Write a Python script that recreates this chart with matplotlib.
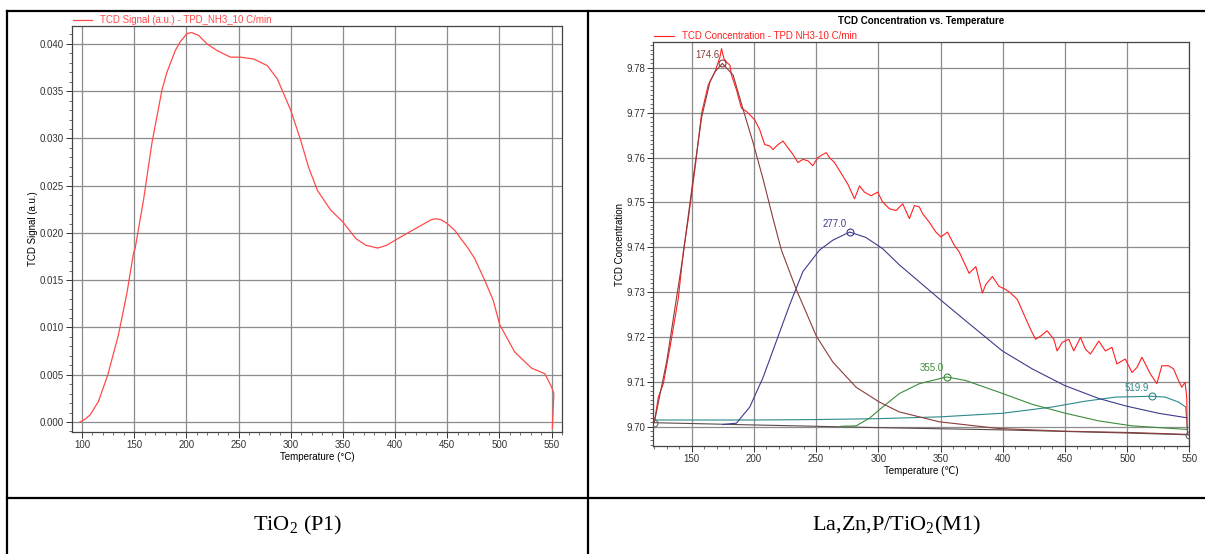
import numpy as np
import matplotlib
matplotlib.use("Agg")
import matplotlib.pyplot as plt
from matplotlib.lines import Line2D
from matplotlib.ticker import MultipleLocator

plt.rcParams['font.family'] = ['Liberation Sans', 'DejaVu Sans']
plt.rcParams['mathtext.fontset'] = 'custom'
plt.rcParams['mathtext.rm'] = 'Liberation Serif'

# ---- left panel: TiO2 (P1) ----
tio2_temp = [98, 103, 107.7, 115.7, 124.7, 134.9, 143, 149.3, 151, 159, 167, 176.6, 181.4,
             189.4, 194, 200.6, 205, 211.8, 219.9, 229.5, 242.3, 251.9, 264.7, 277.6, 287.2,
             300, 309.6, 317, 325.6, 338.5, 349.7, 362.5, 372, 383.4, 392, 402.6, 421.8,
             434.6, 439, 444.2, 450, 457, 469.9, 476.3, 485.9, 494, 500.3, 514.7, 530.8,
             543.6, 550, 552.2, 550.7]
tio2_signal = [0.0000, 0.0003, 0.00074, 0.00215, 0.00497, 0.0092, 0.0136, 0.0178, 0.0184,
               0.0235, 0.0295, 0.0351, 0.0370, 0.0393, 0.0402, 0.0411, 0.0412, 0.0409,
               0.0400, 0.0393, 0.0386, 0.0386, 0.0384, 0.0377, 0.0363, 0.0330, 0.0298,
               0.0270, 0.0245, 0.0224, 0.0212, 0.0194, 0.0187, 0.0184, 0.0187, 0.0194,
               0.0206, 0.0214, 0.0215, 0.0214, 0.0210, 0.0203, 0.0184, 0.0173, 0.0150,
               0.0129, 0.0103, 0.0074, 0.0057, 0.0051, 0.0037, 0.0030, -0.0007]

# ---- right panel: La,Zn,P/TiO2 (M1) ----
m1_temp = [120, 123.2, 127.2, 132.6, 139.3, 143.3, 147.3, 152.6, 158, 163.3, 168.7, 172.7,
           174, 175.9, 178, 180.7, 182, 186, 190, 194, 198, 200.7, 204.7, 208.7, 212.7,
           215.4, 219.4, 223.4, 227.4, 231.4, 235.4, 239.4, 243.4, 247.4, 251.4, 255.4,
           258.2, 260.8, 264.8, 268.8, 275.5, 280.9, 284.9, 288.9, 294.2, 299.5, 303.5,
           308.9, 314.3, 319.6, 325, 329, 333, 335.6, 341, 346.3, 350.3, 355.6, 361, 365,
           373, 378.4, 383.7, 386.4, 391.7, 397, 402.4, 406.4, 411.7, 417.1, 422.4, 426.4,
           430.4, 435.7, 441.1, 443.7, 447.8, 453.1, 457.1, 462.5, 466.5, 470.5, 477.2,
           482.5, 487.8, 491.8, 498.5, 503.9, 507.9, 511.9, 518.6, 523.9, 527.9, 533.3,
           537.3, 541.3, 543.9, 546.6, 547.9, 548.2, 548.7]
m1_conc = [9.7010, 9.7066, 9.7096, 9.7177, 9.7287, 9.7390, 9.7464, 9.7574, 9.7699, 9.7762,
           9.7791, 9.7824, 9.7843, 9.7821, 9.7813, 9.7806, 9.7784, 9.7751, 9.7710, 9.7703,
           9.7692, 9.7684, 9.7662, 9.7629, 9.7626, 9.7618, 9.7629, 9.7637, 9.7622, 9.7607,
           9.7589, 9.7596, 9.7593, 9.7582, 9.7600, 9.7607, 9.7611, 9.7600, 9.7589, 9.7571,
           9.7541, 9.7508, 9.7537, 9.7523, 9.7515, 9.7523, 9.7501, 9.7486, 9.7482, 9.7497,
           9.7464, 9.7493, 9.7490, 9.7475, 9.7456, 9.7434, 9.7423, 9.7434, 9.7405, 9.7390,
           9.7342, 9.7357, 9.7298, 9.7317, 9.7335, 9.7313, 9.7306, 9.7298, 9.7284, 9.7250,
           9.7217, 9.7195, 9.7202, 9.7214, 9.7195, 9.7169, 9.7188, 9.7195, 9.7169, 9.7199,
           9.7173, 9.7162, 9.7191, 9.7169, 9.7177, 9.7140, 9.7151, 9.7121, 9.7132, 9.7155,
           9.7118, 9.7096, 9.7136, 9.7136, 9.7129, 9.7103, 9.7088, 9.7099, 9.7066, 9.7008,
           9.6982]

peak1_temp = [120, 130, 143, 152, 158, 164.7, 168.7, 174.6, 183.3, 191.4, 199.4, 207.4,
              215.4, 222.1, 234.1, 250.2, 263.5, 282.2, 300.9, 316.9, 333, 349, 397,
              450.5, 503.8, 547.9]
peak1_conc = [9.7010, 9.7147, 9.7380, 9.7570, 9.7690, 9.7769, 9.7791, 9.7810, 9.7784,
              9.7707, 9.7633, 9.7552, 9.7464, 9.7394, 9.7306, 9.7202, 9.7144, 9.7088,
              9.7055, 9.7033, 9.7022, 9.7011, 9.6996, 9.6990, 9.6987, 9.6983]

peak2_temp = [175, 186, 196.7, 207.4, 218.1, 228.8, 239.4, 252.8, 263.5, 277.0, 290,
              303.5, 316.9, 349.5, 370.3, 399.7, 423.7, 449.7, 477.2, 499.4, 525.3, 547.9]
peak2_conc = [9.7005, 9.7008, 9.7044, 9.7110, 9.7191, 9.7272, 9.7346, 9.7394, 9.7416,
              9.7434, 9.7422, 9.7397, 9.7361, 9.7284, 9.7236, 9.7169, 9.7129, 9.7092,
              9.7063, 9.7046, 9.7030, 9.7020]

peak3_temp = [270, 282.2, 292.9, 303.5, 316.9, 333, 355.0, 370.3, 397, 423.7, 450.5,
              477.2, 503.9, 547.9]
peak3_conc = [9.7001, 9.7002, 9.7019, 9.7044, 9.7074, 9.7096, 9.7111, 9.7103, 9.7077,
              9.7050, 9.7030, 9.7013, 9.7002, 9.6994]

peak4_temp = [120, 200, 250, 300, 349.5, 399.7, 439.8, 466.5, 490.5, 519.9, 530.6,
              541.3, 547.1, 548.5]
peak4_conc = [9.7015, 9.7015, 9.7016, 9.7018, 9.7022, 9.7030, 9.7044, 9.7057, 9.7066,
              9.7068, 9.7066, 9.7055, 9.7044, 9.6990]

base_temp = [120, 200, 300, 400, 500, 550]
base_conc = [9.7009, 9.7004, 9.6998, 9.6993, 9.6986, 9.6982]

peak_labels = ['174.6', '277.0', '355.0', '519.9']
peak_pos = [174.6, 277.0, 355.0, 519.9]
peak_height = [9.7810, 9.7434, 9.7111, 9.7068]
peak_colors = ['#8c3c3c', '#3c3c8c', '#3c8c3c', '#2e8a8a']

fig = plt.figure(figsize=(12.05, 5.54), dpi=100)


def style_axes(ax):
    ax.grid(True, which='major', color='#8c8c8c', linewidth=0.9)
    ax.tick_params(which='major', direction='out', length=4, width=0.7, labelsize=7,
                   colors='#333333', pad=2)
    ax.tick_params(which='minor', direction='out', length=2.5, width=0.6, colors='#555555')
    for sp in ax.spines.values():
        sp.set_color('#444444')
        sp.set_linewidth(0.9)


# left plot
ax1 = fig.add_axes([0.0598, 0.2202, 0.4066, 0.7329])
ax1.plot(tio2_temp, tio2_signal, color='#ff4a4a', lw=0.9,
         label='TCD Signal (a.u.) - TPD_NH3_10 C/min')
ax1.set_xlim(90.5, 560)
ax1.set_ylim(-0.00106, 0.0419)
ax1.xaxis.set_major_locator(MultipleLocator(50))
ax1.xaxis.set_minor_locator(MultipleLocator(10))
ax1.yaxis.set_major_locator(MultipleLocator(0.005))
ax1.yaxis.set_minor_locator(MultipleLocator(0.001))
ax1.yaxis.set_major_formatter(matplotlib.ticker.FormatStrFormatter('%.3f'))
style_axes(ax1)
ax1.set_xlabel('Temperature (°C)', fontsize=7, labelpad=1)
ax1.set_ylabel('TCD Signal (a.u.)', fontsize=7, labelpad=1)
ax1.legend(loc='lower left', bbox_to_anchor=(0, 1), frameon=False, fontsize=7,
           borderpad=0, borderaxespad=0.05, handlelength=2.0, handletextpad=0.8,
           labelcolor='#ff4a4a')

# right plot
ax2 = fig.add_axes([0.5422, 0.1949, 0.4448, 0.7287])
ax2.plot(base_temp, base_conc, color='#5a4a4a', lw=0.8)
ax2.plot(peak4_temp, peak4_conc, color=peak_colors[3], lw=0.8)
ax2.plot(peak3_temp, peak3_conc, color=peak_colors[2], lw=0.8)
ax2.plot(peak2_temp, peak2_conc, color=peak_colors[1], lw=0.8)
ax2.plot(m1_temp, m1_conc, color='#ff2020', lw=0.8,
         label='TCD Concentration - TPD NH3-10 C/min')
ax2.plot(peak1_temp, peak1_conc, color=peak_colors[0], lw=0.8)
for lab, x, y, c in zip(peak_labels, peak_pos, peak_height, peak_colors):
    ax2.plot([x], [y], 'o', mfc='none', mec=c, ms=5, mew=0.8)
    ax2.annotate(lab, (x, y), xytext=(-2, 2.5), textcoords='offset points',
                 ha='right', va='bottom', fontsize=7, color=c)
ax2.plot([base_temp[0], base_temp[-1]], [base_conc[0], base_conc[-1]], 'o', mfc='none',
         mec='#666666', ms=5, mew=0.8)
ax2.set_xlim(119.2, 550)
ax2.set_ylim(9.6957, 9.7857)
ax2.xaxis.set_major_locator(MultipleLocator(50))
ax2.xaxis.set_minor_locator(MultipleLocator(10))
ax2.yaxis.set_major_locator(MultipleLocator(0.01))
ax2.yaxis.set_minor_locator(MultipleLocator(0.001))
ax2.yaxis.set_major_formatter(matplotlib.ticker.FormatStrFormatter('%.2f'))
style_axes(ax2)
ax2.set_xlabel('Temperature (\u2103)', fontsize=7, labelpad=1)
ax2.set_ylabel('TCD Concentration', fontsize=7, labelpad=1)
ax2.set_title('TCD Concentration vs. Temperature', fontsize=7, fontweight='bold', pad=13.5)
ax2.legend(loc='lower left', bbox_to_anchor=(0, 1), frameon=False, fontsize=7,
           borderpad=0, borderaxespad=0.1, handlelength=2.0, handletextpad=0.8,
           labelcolor='#ff2020')

# table frame
lw = 1.6
fig.add_artist(Line2D([0.0058, 1.0], [0.980, 0.980], color='black', lw=lw))
fig.add_artist(Line2D([0.0058, 0.0058], [0.0, 0.980], color='black', lw=lw))
fig.add_artist(Line2D([0.488, 0.488], [0.0, 0.980], color='black', lw=lw))
fig.add_artist(Line2D([0.0058, 1.0], [0.101, 0.101], color='black', lw=lw))

fig.text(0.247, 0.052, 'TiO$_\\mathrm{2}$ (P1)', ha='center', va='center',
         fontsize=16, family='Liberation Serif')
fig.text(0.744, 0.052, 'La,Zn,P/TiO$_\\mathrm{2}$(M1)', ha='center', va='center',
         fontsize=16, family='Liberation Serif')

fig.savefig('out.png', dpi=100)
